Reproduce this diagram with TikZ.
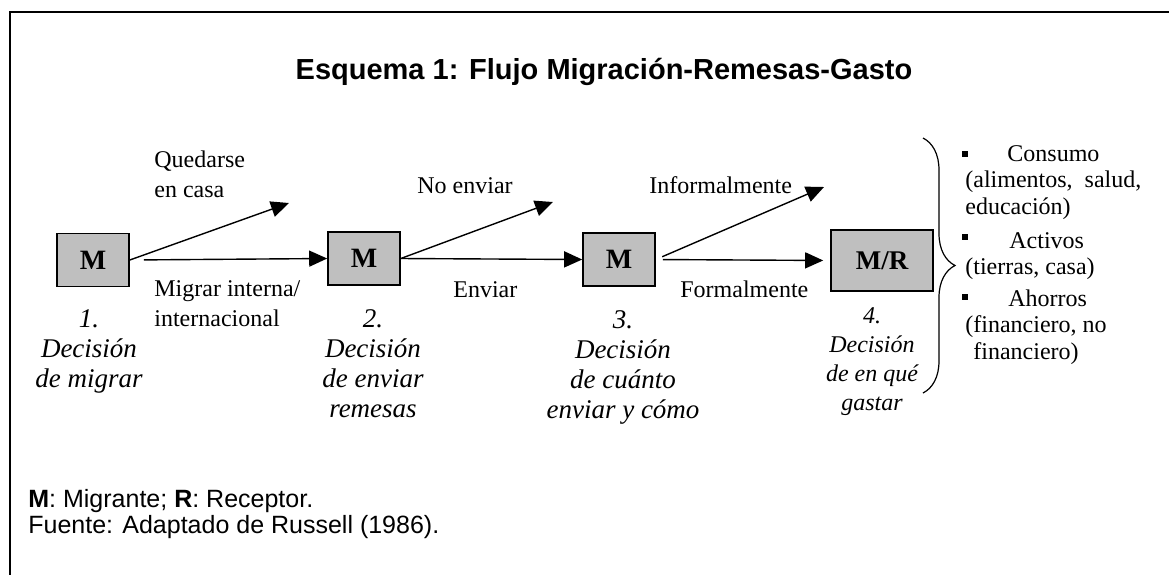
\documentclass[tikz,border=0pt]{standalone}
\usepackage{fontspec}
\setmainfont{Liberation Serif}
\setsansfont{Liberation Sans}
\usetikzlibrary{arrows.meta,decorations.pathreplacing}
\begin{document}
\begin{tikzpicture}[x=0.5pt,y=-0.5pt,
    decision/.style ={rectangle, draw, line width=0.8pt, fill=black!25, inner sep=0pt, minimum width=36pt, minimum height=26.5pt, font=\fontsize{14}{16}\selectfont\bfseries},
    option/.style ={anchor=base west, inner sep=0pt, align=left, font=\fontsize{12}{14.75}\selectfont},
    decisiontext/.style ={anchor=base, inner sep=0pt, align=center, font=\fontsize{13.5}{15}\selectfont\itshape},
    itemtext/.style ={anchor=base west, inner sep=0pt, align=left, font=\fontsize{12}{13.25}\selectfont},
    bullet/.style ={rectangle, fill=black, inner sep=0pt, minimum size=3pt},
    note/.style ={anchor=base west, inner sep=0pt, font=\fontsize{12.5}{13}\selectfont\sffamily},
    flow/.style ={line width=0.7pt, -{Triangle[length=9pt,width=8pt]}}]
   \useasboundingbox (0,0) rectangle (1169,575);
   \draw[line width=1pt] (1169,12) -- (10,12) -- (10,575);
   \node[anchor=base, inner sep=0pt, font=\fontsize{14.5}{17}\selectfont\sffamily\bfseries] (title) at (604,79) {Esquema 1: Flujo Migración-Remesas-Gasto};
   \node[decision] (m1) at (93,260) {M};
   \node[decision] (m2) at (364,258.5) {M};
   \node[decision] (m3) at (619,259.5) {M};
   \node[decision, minimum width=51pt, minimum height=30.5pt, font=\fontsize{13.5}{16}\selectfont\bfseries] (m4) at (882,260.5) {M/R};
   \coordinate (quedarse) at (289,203);
   \coordinate (noenviar) at (553,202);
   \coordinate (informal) at (824,187);
   \draw[flow] (m1.east) -- (quedarse);
   \draw[flow, shorten <=7pt] (m1.east) -- (m2.west);
   \draw[flow] (m2.east) -- (noenviar);
   \draw[flow] (m2.east) -- (m3.west);
   \draw[flow, shorten <=3.5pt] (m3.east) -- (informal);
   \draw[flow, shorten <=3.5pt, shorten >=3.5pt] (m3.east) -- (m4.west);
   \node[option] (stay) at (154,197) {Quedarse\\en casa};
   \node[option] (migrate) at (154,326) {Migrar interna/\\internacional};
   \node[option] (nosend) at (417,193) {No enviar};
   \node[option] (send) at (453,297) {Enviar};
   \node[option] (informally) at (649,193) {Informalmente};
   \node[option] (formally) at (680,297) {Formalmente};
   \node[decisiontext] (d1) at (89,387) {1.\\Decisión\\de migrar};
   \node[decisiontext] (d2) at (373,417) {2.\\Decisión\\de enviar\\remesas};
   \node[decisiontext] (d3) at (623,418) {3.\\Decisión\\de cuánto\\enviar y cómo};
   \node[decisiontext, font=\fontsize{12}{14.5}\selectfont\itshape] (d4) at (872,410) {4.\\Decisión\\de en qué\\gastar};
   \draw[line width=0.6pt, decorate, decoration={brace, amplitude=16pt}] (923,138) -- (923,393);
   \node[itemtext] (consumo) at (965,214) {\hspace*{21pt}Consumo\\(alimentos,\ \ salud,\\educación)};
   \node[itemtext] (activos) at (965,274.5) {\hspace*{22pt}Activos\\(tierras, casa)};
   \node[itemtext] (ahorros) at (965,359) {\hspace*{21.5pt}Ahorros\\(financiero, no\\\hspace*{4pt}financiero)};
   \node[bullet] (b1) at (965,154) {};
   \node[bullet] (b2) at (965,237) {};
   \node[bullet] (b3) at (965,297) {};
   \node[note] (legend) at (28,507) {\textbf{M}: Migrante; \textbf{R}: Receptor.};
   \node[note] (source) at (28,533) {Fuente: Adaptado de Russell (1986).};
\end{tikzpicture}
\end{document}
